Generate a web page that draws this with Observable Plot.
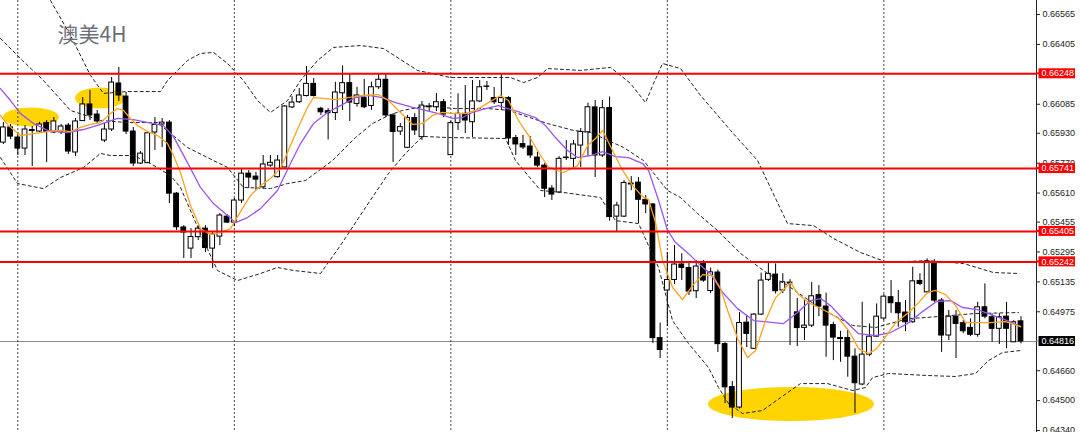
<!DOCTYPE html>
<html><head><meta charset="utf-8">
<script src="https://cdn.jsdelivr.net/npm/d3@7"></script>
<script src="https://cdn.jsdelivr.net/npm/@observablehq/plot@0.6"></script>
<style>html,body{margin:0;padding:0;background:#fff;}#chart svg{display:block;}</style>
</head><body><div id="chart"></div>
<script>
// ---- OHLC (4H bars, left to right) ----
const openP = [0.65880,0.65961,0.65907,0.65848,0.65947,0.65939,0.65985,0.65934,0.65935,0.65971,0.65827,0.65995,0.66084,0.66030,0.65891,0.65950,0.66196,0.66126,0.65939,0.65768,0.65770,0.65934,0.65977,0.65987,0.65607,0.65426,0.65313,0.65374,0.65420,0.65313,0.65377,0.65484,0.65452,0.65570,0.65714,0.65698,0.65641,0.65757,0.65695,0.65747,0.66068,0.66096,0.66129,0.66194,0.66061,0.66048,0.66038,0.66144,0.66198,0.66087,0.66119,0.66076,0.66176,0.66216,0.66025,0.65939,0.65852,0.66011,0.65909,0.66069,0.66069,0.66096,0.65813,0.65985,0.66034,0.65989,0.66100,0.66180,0.66118,0.66092,0.66118,0.65904,0.65872,0.65859,0.65800,0.65757,0.65634,0.65613,0.65800,0.65793,0.65864,0.65935,0.66068,0.65811,0.66065,0.65484,0.65484,0.65661,0.65666,0.65574,0.65549,0.64834,0.65089,0.65145,0.65228,0.65209,0.65085,0.65236,0.65086,0.65185,0.64802,0.64572,0.64463,0.64917,0.64777,0.64960,0.65146,0.65174,0.65089,0.65131,0.64972,0.64889,0.64901,0.65064,0.65003,0.64904,0.64835,0.64835,0.64735,0.64586,0.64746,0.64842,0.64939,0.65053,0.65021,0.64971,0.64919,0.65140,0.65079,0.65240,0.65035,0.64848,0.64949,0.64914,0.64889,0.64852,0.64999,0.64946,0.64884,0.64949,0.64812,0.64924];
const highP = [0.65987,0.65977,0.65934,0.65971,0.65966,0.65989,0.65998,0.66014,0.65977,0.65982,0.66009,0.66121,0.66159,0.66052,0.65982,0.66228,0.66282,0.66148,0.65961,0.65832,0.65939,0.66014,0.66009,0.65998,0.65613,0.65436,0.65420,0.65436,0.65436,0.65399,0.65500,0.65495,0.65581,0.65741,0.65730,0.65721,0.65811,0.65811,0.65811,0.66078,0.66126,0.66169,0.66287,0.66223,0.66069,0.66062,0.66203,0.66290,0.66249,0.66176,0.66217,0.66203,0.66249,0.66249,0.66035,0.65982,0.66025,0.66035,0.66100,0.66089,0.66142,0.66110,0.65993,0.66141,0.66185,0.66212,0.66212,0.66207,0.66175,0.66244,0.66126,0.65918,0.65918,0.65912,0.65827,0.65768,0.65650,0.65805,0.65891,0.65891,0.65955,0.66091,0.66105,0.66105,0.66124,0.65561,0.65677,0.65698,0.65693,0.65597,0.65554,0.64915,0.65292,0.65329,0.65285,0.65235,0.65249,0.65249,0.65209,0.65198,0.64810,0.64602,0.64971,0.64955,0.64965,0.65182,0.65235,0.65231,0.65179,0.65147,0.65046,0.65035,0.65131,0.65115,0.65075,0.64919,0.64871,0.64875,0.64777,0.65026,0.64910,0.65017,0.65067,0.65142,0.65089,0.65035,0.65213,0.65179,0.65258,0.65254,0.65046,0.64982,0.64982,0.64928,0.64937,0.65026,0.65124,0.64964,0.64965,0.65026,0.64928,0.64949];
const lowP = [0.65870,0.65896,0.65811,0.65811,0.65752,0.65934,0.65773,0.65928,0.65923,0.65816,0.65805,0.65993,0.65998,0.65982,0.65880,0.65939,0.66100,0.65923,0.65752,0.65763,0.65768,0.65838,0.65854,0.65554,0.65410,0.65260,0.65260,0.65356,0.65292,0.65206,0.65329,0.65447,0.65431,0.65554,0.65634,0.65623,0.65633,0.65748,0.65690,0.65745,0.66062,0.66089,0.66124,0.66124,0.66025,0.65894,0.65998,0.66052,0.65993,0.66069,0.66062,0.66052,0.66164,0.66014,0.65773,0.65918,0.65848,0.65918,0.65891,0.66041,0.66046,0.66014,0.65811,0.65945,0.65928,0.65907,0.66094,0.66159,0.66084,0.66052,0.65864,0.65811,0.65843,0.65795,0.65747,0.65586,0.65570,0.65607,0.65784,0.65747,0.65747,0.65811,0.65693,0.65800,0.65460,0.65400,0.65479,0.65623,0.65447,0.65500,0.64805,0.64725,0.64896,0.65121,0.65142,0.65062,0.65046,0.65133,0.65072,0.64757,0.64484,0.64404,0.64455,0.64784,0.64773,0.64955,0.65137,0.65070,0.65072,0.64794,0.64789,0.64821,0.64891,0.64949,0.64732,0.64714,0.64705,0.64625,0.64432,0.64580,0.64735,0.64839,0.64928,0.64967,0.64892,0.64869,0.64914,0.65115,0.65072,0.65024,0.64758,0.64821,0.64725,0.64858,0.64842,0.64839,0.64937,0.64812,0.64800,0.64777,0.64810,0.64803];
const closeP = [0.65961,0.65912,0.65848,0.65950,0.65942,0.65977,0.65937,0.65993,0.65966,0.65832,0.65993,0.66084,0.66025,0.65993,0.65950,0.66201,0.66132,0.65939,0.65768,0.65821,0.65930,0.65974,0.65987,0.65607,0.65427,0.65399,0.65375,0.65420,0.65316,0.65388,0.65490,0.65452,0.65570,0.65714,0.65693,0.65682,0.65763,0.65772,0.65784,0.66073,0.66094,0.66132,0.66194,0.66129,0.66042,0.66037,0.66148,0.66198,0.66094,0.66132,0.66069,0.66176,0.66216,0.66025,0.65937,0.65963,0.66012,0.65945,0.66078,0.66073,0.66096,0.66030,0.65984,0.66034,0.65998,0.66100,0.66176,0.66178,0.66096,0.66118,0.65902,0.65870,0.65854,0.65811,0.65757,0.65633,0.65602,0.65793,0.65797,0.65870,0.65937,0.66069,0.65811,0.66064,0.65482,0.65543,0.65664,0.65656,0.65574,0.65549,0.64834,0.64771,0.65145,0.65228,0.65210,0.65083,0.65217,0.65142,0.65186,0.64802,0.64571,0.64463,0.64915,0.64857,0.64960,0.65142,0.65178,0.65085,0.65133,0.65126,0.64888,0.64901,0.65058,0.65003,0.64901,0.64837,0.64829,0.64735,0.64593,0.64746,0.64842,0.64949,0.65056,0.65021,0.64967,0.64919,0.65138,0.65124,0.65245,0.65035,0.64848,0.64949,0.64910,0.64871,0.64852,0.64999,0.64949,0.64884,0.64946,0.64884,0.64919,0.64816];

// ---- indicator readings: [bar position, price] ----
const orangeK = [-0.4,0.71,2.37,4.18,6.12,7.92,9.3,10.69,12.07,13.46,14.84,15.81,16.64,17.61,18.59,19.97,21.36,22.74,23.57,24.54,25.93,27.31,28.7,30.08,31.47,32.86,34.24,35.63,37.01,38.4,39.78,41.17,42.14,42.97,44.36,46.02,47.82,49.76,51.98,53.36,54.75,56.69,58.08,59.46,60.85,62.65,64.04,65.42,67.22,68.88,69.99,71.38,73.04,74.43,75.54,77.62,79.56,80.95,82.06,83.03,84.41,85.8,87.19,88.57,89.4,90.37,91.34,92.73,94.11,95.5,96.89,98.27,99.38,100.35,101.73,103.12,104.23,105.61,107,108.39,109.08,110.19,111.57,112.96,114.35,115.73,117.12,118.5,119.89,121,122.25,123.63,125.43,126.82,128.06,129.17,130.56,131.94,133.33,134.71,136.79,138.87,140.95];
const orangeP = [0.66025,0.65971,0.65918,0.65928,0.65939,0.65945,0.65939,0.65961,0.65977,0.65987,0.66035,0.66062,0.66052,0.66009,0.65971,0.65939,0.65918,0.65875,0.65811,0.6572,0.65543,0.6542,0.65388,0.65399,0.6542,0.65511,0.65597,0.6565,0.65688,0.65741,0.65864,0.65987,0.66068,0.66121,0.66116,0.6611,0.66121,0.66132,0.66137,0.66105,0.66052,0.65977,0.65982,0.66025,0.66041,0.66035,0.66035,0.66052,0.66094,0.66132,0.66105,0.65998,0.65902,0.65811,0.65747,0.6572,0.65757,0.65864,0.65902,0.65945,0.65838,0.65731,0.6565,0.65591,0.65575,0.65452,0.65249,0.65105,0.6504,0.65115,0.65174,0.65169,0.65099,0.64982,0.64832,0.6473,0.64768,0.64928,0.65051,0.65105,0.65131,0.65067,0.65024,0.64998,0.64971,0.64939,0.64875,0.64778,0.64751,0.64778,0.64842,0.64917,0.64971,0.65024,0.65078,0.65089,0.65067,0.65008,0.64917,0.64917,0.64917,0.64923,0.64896];
const purpleK = [-0.4,0.99,2.37,4.18,6.12,8.89,11.1,13.46,15.81,18.03,20.8,22.19,23.57,25.51,27.31,29.11,31.06,32.16,33.83,35.63,37.98,39.78,41.17,42.97,44.91,46.71,48.79,50.59,52.53,54.33,56.69,58.49,60.29,62.23,63.62,65,66.8,68.6,70.27,71.66,73.73,75.12,76.5,78.17,79.56,81.36,83.03,84.83,86.63,88.57,89.4,90.79,92.03,93.14,94.94,96.61,97.99,99.66,101.73,103.95,106.72,108.11,110.05,111.85,113.24,114.62,116.28,118.5,120.85,122.93,125.28,127.36,129.3,131.24,132.9,134.98,137.2,139.14,140.95];
const purpleP = [0.66169,0.66105,0.66035,0.65982,0.65945,0.65934,0.6595,0.65977,0.66009,0.66003,0.65982,0.65971,0.65912,0.65773,0.6564,0.65554,0.6549,0.65452,0.65479,0.65527,0.65624,0.65768,0.65875,0.65982,0.66041,0.66078,0.66121,0.66132,0.66121,0.66094,0.66068,0.66052,0.66035,0.66009,0.66014,0.66041,0.66062,0.66078,0.66057,0.66041,0.66014,0.65971,0.65907,0.65838,0.658,0.65811,0.65832,0.65805,0.658,0.65768,0.65731,0.6557,0.6541,0.65345,0.65286,0.65222,0.65179,0.65078,0.64992,0.64928,0.64917,0.64912,0.64971,0.65035,0.65046,0.65008,0.64939,0.64858,0.64848,0.64864,0.64912,0.64976,0.6503,0.65035,0.64998,0.64987,0.64955,0.64928,0.64896];
const upperK = [6.53,9.3,12.07,13.87,17.2,21.77,22.74,25.51,27.31,29.12,31.06,33.27,35.21,37.01,39.37,41.17,43.53,45.74,49.48,52.67,57.38,61.96,70.27,72.07,74.01,75.4,79.97,84.13,86.9,88.98,90.09,91.33,93.83,96.6,100.76,104.5,108.65,112.26,115.03,118.77,122.51,128.05,133.04,137.19,140.52];
const upperP = [0.6664,0.66453,0.66239,0.66143,0.66153,0.66153,0.66212,0.66319,0.66357,0.66362,0.66303,0.66212,0.66105,0.66041,0.66105,0.66212,0.66319,0.66389,0.66399,0.66383,0.66266,0.66228,0.66228,0.66201,0.66228,0.66276,0.66266,0.66282,0.66196,0.66094,0.66196,0.66303,0.66276,0.66132,0.65945,0.65784,0.65447,0.65436,0.65367,0.65292,0.65239,0.65249,0.65233,0.65185,0.6518];
const innerK = [-0.4,2.65,5.56,9.3,13.46,17.2,21.36,25.51,28.29,31.06,33.27,37.01,39.37,41.86,45.6,48.79,51.15,53.36,55.31,58.91,60.85,62.65,67.22,70,71.24,75.4,79,81.36,85.93,88.7,92.02,93.83,96.18,98.95,102.14,105.88,108.65,113.22,117.66,120.85,125.42,127.78,134.7,140.66];
const innerP = [0.66437,0.66319,0.66212,0.66052,0.65998,0.65987,0.65987,0.65854,0.658,0.65747,0.6564,0.65634,0.65661,0.65677,0.65784,0.65907,0.65982,0.66025,0.66052,0.66078,0.66068,0.66062,0.66062,0.66052,0.66036,0.65982,0.65945,0.65934,0.65854,0.65784,0.65624,0.65586,0.65501,0.6541,0.65287,0.6518,0.65116,0.64993,0.64902,0.64891,0.64939,0.64944,0.64966,0.64971];
const lowerK = [-0.4,1.96,5.56,7.92,11.1,13.46,14.84,18.03,20.39,23.16,24.54,27.73,29.67,32.44,35.63,37.98,40.2,43.94,46.71,50.18,53.36,55.72,58.08,61.68,69.58,70.96,74.43,77.62,82.74,83.44,84.82,88.01,90.78,92.72,94.94,97.7,99.09,100.48,102.42,105.19,107.68,110.45,114.19,117.66,119.46,120.43,122.65,128.19,131.93,134.7,136.5,138.44,140.94];
const lowerP = [0.658,0.65661,0.65634,0.65693,0.65747,0.65822,0.65811,0.65811,0.65768,0.65704,0.6564,0.65356,0.65196,0.65142,0.6518,0.65212,0.65196,0.6518,0.6533,0.65533,0.65715,0.65822,0.65913,0.65907,0.65902,0.65784,0.65624,0.65613,0.65586,0.65543,0.65463,0.65447,0.65212,0.64928,0.64805,0.64677,0.6457,0.64484,0.64431,0.64447,0.64516,0.64591,0.64591,0.64554,0.6457,0.64623,0.64645,0.64634,0.64629,0.64645,0.64714,0.64757,0.64768];

// ---- levels, separators, ticks, highlights ----
const redLevels = [0.66248, 0.65741, 0.65405, 0.65242];
const lastPrice = 0.64816;
const separatorK = [2, 32, 62, 92, 122];
const yTicks = [0.66565,0.66405,0.66085,0.65930,0.65770,0.65610,0.65455,0.65295,0.65135,0.64975,0.64660,0.64500,0.64340];
const ellipseK = [3.9, 13.46, 109.2];
const ellipseP = [0.66014, 0.66116, 0.64479];
const ellipseHalfBars = [3.88, 3.46, 11.5];
const ellipseHalfP = [0.00051, 0.00056, 0.00091];
const title = "澳美4H";

const bars = openP.map((o, k) => ({k, open: o, high: highP[k], low: lowP[k], close: closeP[k]}));
const bull = bars.filter(d => d.close >= d.open);
const bear = bars.filter(d => d.close < d.open);
const pts = (K, P) => K.map((k, j) => ({k, p: P[j]}));

function ellipseMark(index, scales) {
  const {x, y} = scales;
  const g = d3.create("svg:g");
  ellipseK.forEach((c, j) => {
    const cx = x(c), cy = y(ellipseP[j]);
    g.append("ellipse").attr("cx", cx).attr("cy", cy)
      .attr("rx", Math.abs(x(c + ellipseHalfBars[j]) - cx))
      .attr("ry", Math.abs(y(ellipseP[j] - ellipseHalfP[j]) - cy))
      .attr("fill", "#ffd400");
  });
  return g.node();
}

function tagMark(index, scales, values, dims) {
  const {y} = scales;
  const x0 = dims.width - dims.marginRight;
  const g = d3.create("svg:g")
    .attr("font-family", "Liberation Sans, Arial, sans-serif")
    .attr("font-size", 9)
    .attr("text-anchor", "start");
  const tags = redLevels.map(v => ({v, fill: "#ff0000", line: "#ff0000", w: 2}))
    .concat([{v: lastPrice, fill: "#000000", line: "#8a8a8a", w: 1}]);
  for (const t of tags) {
    const yy = y(t.v);
    g.append("line").attr("x1", x0).attr("x2", x0 + 3).attr("y1", yy).attr("y2", yy)
      .attr("stroke", t.line).attr("stroke-width", t.w);
    g.append("rect").attr("x", x0 + 2.5).attr("y", yy - 5).attr("width", 36.5).attr("height", 10).attr("fill", t.fill);
    g.append("text").attr("x", x0 + 5.5).attr("y", yy).attr("dy", "0.35em")
      .attr("text-anchor", "start").attr("fill", "#fff").text(t.v.toFixed(5));
  }
  return g.node();
}

const chart = Plot.plot({
  width: 1080, height: 432,
  marginLeft: 0, marginRight: 44, marginTop: 0, marginBottom: 0,
  style: {fontFamily: "Liberation Sans, Arial, sans-serif", fontSize: "9px", color: "#222", background: "#fff"},
  x: {domain: [-0.397, 143.15], axis: null},
  y: {domain: [0.643294, 0.6664], axis: "right", ticks: yTicks, tickFormat: d => d.toFixed(5), tickSize: 3, tickPadding: 3, label: null, line: true},
  marks: [
    ellipseMark,
    Plot.ruleY([lastPrice], {stroke: "#8a8a8a", strokeWidth: 1}),
    Plot.ruleX(separatorK, {stroke: "#444", strokeDasharray: "2,2", strokeWidth: 1}),
    Plot.ruleX(bars, {x: "k", y1: "low", y2: "high", stroke: "#000", strokeWidth: 1}),
    Plot.rect(bull, {x1: d => d.k - 0.33, x2: d => d.k + 0.33, y1: "open", y2: "close", fill: "#fff", stroke: "#000", strokeWidth: 1}),
    Plot.rect(bear, {x1: d => d.k - 0.33, x2: d => d.k + 0.33, y1: "open", y2: "close", fill: "#000", stroke: "#000", strokeWidth: 1}),
    Plot.line(pts(upperK, upperP), {x: "k", y: "p", stroke: "#222", strokeDasharray: "3,3", strokeWidth: 1}),
    Plot.line(pts(innerK, innerP), {x: "k", y: "p", stroke: "#222", strokeDasharray: "3,3", strokeWidth: 1}),
    Plot.line(pts(lowerK, lowerP), {x: "k", y: "p", stroke: "#222", strokeDasharray: "3,3", strokeWidth: 1}),
    Plot.line(pts(purpleK, purpleP), {x: "k", y: "p", stroke: "#9a55f0", strokeWidth: 1.3}),
    Plot.line(pts(orangeK, orangeP), {x: "k", y: "p", stroke: "#ffa21f", strokeWidth: 1.3}),
    Plot.ruleY(redLevels, {stroke: "#ff0000", strokeWidth: 2}),
    Plot.text([title], {frameAnchor: "top-left", dx: 57, dy: 27, text: d => d, textAnchor: "start", lineAnchor: "top", fontSize: 21, fill: "#6a6f78", fontFamily: "Noto Sans CJK SC"}),
    tagMark
  ]
});
document.getElementById("chart").appendChild(chart);
</script>
</body></html>
